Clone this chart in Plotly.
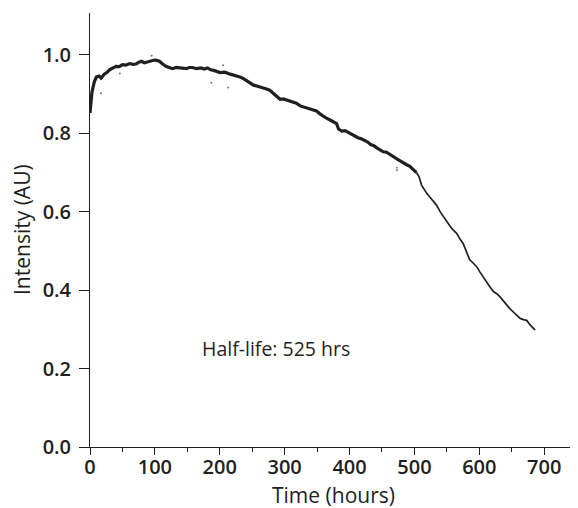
import plotly.graph_objects as go

# Time (hours) and normalized intensity
time_h = [0, 3, 6.7, 10, 14, 17, 22, 26, 30, 35, 40, 45, 50, 55, 61, 66, 71, 75, 79, 84,
          89, 94, 99, 103, 107, 112, 117, 122, 127, 133, 138, 143, 148, 153, 158, 164, 171,
          176, 181, 186, 192, 200, 208, 216, 221, 226, 231, 236, 242, 247, 252, 257, 262,
          267, 272, 277, 282, 288, 293, 298, 303, 308, 313, 318, 324, 329, 334, 339, 344,
          349, 355, 360, 365, 370, 375, 380, 383, 388, 393, 398, 403, 408, 413, 418, 423,
          428, 433, 437, 442, 447, 452, 457, 462, 467, 473, 478, 483, 488, 493, 498, 503]
intensity = [0.852, 0.905, 0.932, 0.944, 0.946, 0.941, 0.951, 0.955, 0.962, 0.966, 0.971,
             0.970, 0.975, 0.974, 0.978, 0.976, 0.977, 0.981, 0.984, 0.980, 0.982, 0.985,
             0.987, 0.986, 0.984, 0.977, 0.971, 0.968, 0.965, 0.968, 0.967, 0.964, 0.965,
             0.968, 0.968, 0.965, 0.967, 0.964, 0.967, 0.962, 0.960, 0.955, 0.956, 0.951,
             0.949, 0.946, 0.944, 0.940, 0.933, 0.928, 0.923, 0.921, 0.919, 0.915, 0.913,
             0.910, 0.903, 0.892, 0.887, 0.888, 0.885, 0.881, 0.879, 0.877, 0.870, 0.867,
             0.864, 0.863, 0.860, 0.857, 0.849, 0.843, 0.838, 0.834, 0.830, 0.825, 0.811,
             0.806, 0.807, 0.802, 0.799, 0.794, 0.789, 0.786, 0.782, 0.778, 0.771, 0.769,
             0.763, 0.757, 0.753, 0.752, 0.746, 0.741, 0.735, 0.730, 0.724, 0.720, 0.716,
             0.709, 0.700]

# Late (thinner, less noisy) part of the curve
time_late = [503, 507, 511, 515, 519, 524, 529, 534, 540, 545, 550, 555, 560, 565, 570, 575,
             580, 585, 590, 596, 601, 606, 611, 617, 622, 627, 632, 637, 642, 647, 652, 657,
             663, 668, 673, 678, 682, 686]
intensity_late = [0.700, 0.690, 0.668, 0.657, 0.647, 0.637, 0.628, 0.617, 0.599, 0.586, 0.574,
                  0.563, 0.553, 0.545, 0.531, 0.519, 0.499, 0.478, 0.470, 0.460, 0.446, 0.433,
                  0.421, 0.407, 0.396, 0.391, 0.383, 0.372, 0.362, 0.353, 0.345, 0.336, 0.328,
                  0.325, 0.323, 0.312, 0.305, 0.298]

# Scattered outlier points
out_t = [17, 46, 95, 187, 205, 213, 473, 473]
out_y = [0.902, 0.953, 0.998, 0.929, 0.974, 0.917, 0.706, 0.712]

x_ticks = [0, 100, 200, 300, 400, 500, 600, 700]
y_ticks = [0.0, 0.2, 0.4, 0.6, 0.8, 1.0]

INK = "#231f20"

fig = go.Figure()
fig.add_trace(go.Scatter(x=out_t, y=out_y, mode="markers",
                         marker=dict(size=2, color="#777777"), showlegend=False))
fig.add_trace(go.Scatter(x=time_h, y=intensity, mode="lines",
                         line=dict(color=INK, width=3.2), showlegend=False))
fig.add_trace(go.Scatter(x=time_late, y=intensity_late, mode="lines",
                         line=dict(color=INK, width=1.7), showlegend=False))

tickfont = dict(family="Open Sans", size=20, color=INK, weight=600)
titlefont = dict(family="Open Sans", size=21, color=INK, weight=500)

fig.update_xaxes(range=[0, 749], tickvals=x_ticks, ticktext=[str(v) for v in x_ticks],
                 showline=True, linecolor=INK, linewidth=1, ticks="outside", ticklen=7,
                 tickcolor=INK, tickwidth=1, showgrid=False, zeroline=False,
                 minor=dict(ticks="outside", dtick=50, ticklen=4, tickcolor=INK, tickwidth=1),
                 tickfont=tickfont, automargin=False, ticklabelstandoff=-5)
fig.update_yaxes(range=[0, 1.107], tickvals=y_ticks, ticktext=[f"{v:.1f}" for v in y_ticks],
                 showline=True, linecolor=INK, linewidth=1, ticks="outside", ticklen=10,
                 tickcolor=INK, tickwidth=1, showgrid=False, zeroline=False,
                 tickfont=tickfont, automargin=False, ticklabelstandoff=4)

# axis titles
fig.add_annotation(text="Time (hours)", xref="paper", yref="paper", x=0.5, y=-0.1106,
                   xanchor="center", yanchor="middle", showarrow=False, font=titlefont)
fig.add_annotation(text="Intensity (AU)", xref="paper", yref="paper", x=-0.1399, y=0.5,
                   xanchor="center", yanchor="middle", textangle=-90, showarrow=False,
                   font=titlefont)

# axis line extensions beyond the origin
fig.add_shape(type="line", xref="x", yref="y", x0=-15, x1=0, y0=0, y1=0,
              line=dict(color=INK, width=1))
fig.add_shape(type="line", xref="x", yref="y", x0=0, x1=0, y0=-0.018, y1=0,
              line=dict(color=INK, width=1))

fig.add_annotation(x=287, y=0.252, xref="x", yref="y", text="Half-life: 525 hrs",
                   showarrow=False, font=dict(family="Open Sans", size=19.5, color=INK))

fig.update_layout(width=578, height=508, margin=dict(l=82, r=10, t=5, b=69),
                  plot_bgcolor="white", paper_bgcolor="white")

fig.write_html("out.html")
